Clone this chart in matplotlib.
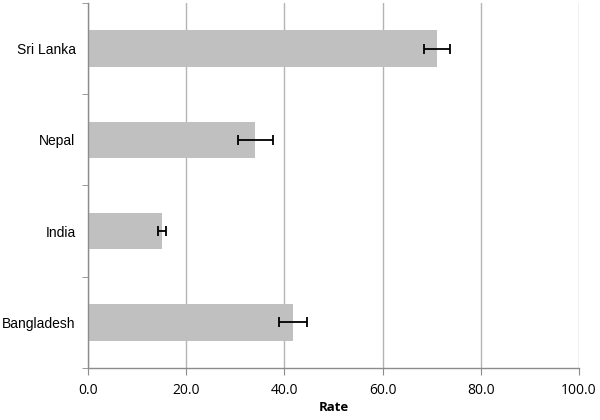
import matplotlib as mpl
import matplotlib.pyplot as plt

# data
countries = ['Bangladesh', 'India', 'Nepal', 'Sri Lanka']
rates = [41.8, 15.1, 34.1, 71.1]
errors = [2.85, 0.8, 3.6, 2.6]
x_ticks = [0, 20, 40, 60, 80, 100]

BAR_COLOR = '#c0c0c0'
GRID_COLOR = '#b4b4b4'
AXIS_COLOR = '#8c8c8c'

mpl.rcParams['font.family'] = ['Liberation Sans', 'DejaVu Sans']

fig = plt.figure(figsize=(6, 4.2), dpi=100)
ax = fig.add_axes([0.1467, 0.124, 0.8183, 0.869])

pos = list(range(len(countries)))
ax.barh(pos, rates, height=0.4, color=BAR_COLOR, zorder=2)
ax.errorbar(rates, pos, xerr=errors, fmt='none', ecolor='black',
            elinewidth=1.3, capsize=3.5, capthick=1.3, zorder=3)

ax.set_xlim(0, 100)
ax.set_ylim(-0.5, len(countries) - 0.5)
ax.set_xticks(x_ticks)
ax.set_xticklabels(['{:.1f}'.format(v) for v in x_ticks],
                   fontfamily='Open Sans', fontsize=10)
ax.set_yticks(pos)
ax.set_yticklabels(countries, fontsize=10)
ax.set_yticks([p - 0.5 for p in pos] + [len(countries) - 0.5], minor=True)

ax.tick_params(axis='y', which='major', length=0, pad=9)
ax.tick_params(axis='y', which='minor', length=4, color=AXIS_COLOR, direction='out')
ax.tick_params(axis='x', length=5, color=AXIS_COLOR, pad=6)

ax.grid(axis='x', color=GRID_COLOR, linewidth=1, zorder=0)
ax.set_axisbelow(True)
for side in ['top', 'right']:
    ax.spines[side].set_visible(False)
for side in ['left', 'bottom']:
    ax.spines[side].set_color(AXIS_COLOR)
    ax.spines[side].set_linewidth(1)

ax.set_xlabel('Rate', fontfamily='Open Sans', fontweight='bold', fontsize=9.5, labelpad=2)

fig.savefig('out.png', dpi=100)
